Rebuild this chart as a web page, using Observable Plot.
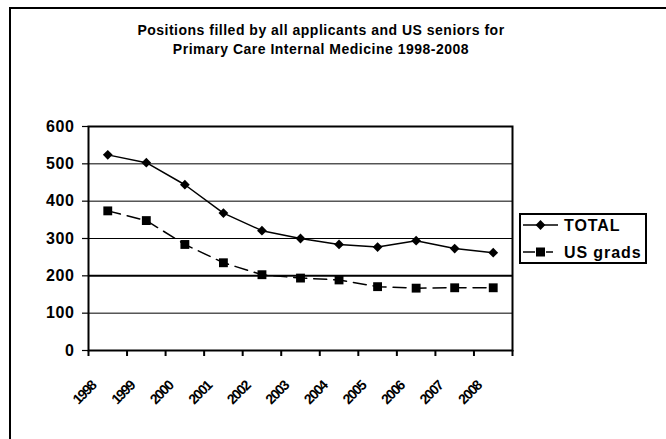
<!DOCTYPE html>
<html>
<head>
<meta charset="utf-8">
<script src="https://cdn.jsdelivr.net/npm/d3@7"></script>
<script src="https://cdn.jsdelivr.net/npm/@observablehq/plot@0.6"></script>
<style>
  body { margin: 0; background: #fff; font-family: "Liberation Sans", Arial, sans-serif; }
  #wrap { position: relative; width: 666px; height: 439px; overflow: hidden; background: #fff; }
  #border { position: absolute; left: 9px; top: 7px; width: 700px; height: 500px; border-left: 2px solid #000; border-top: 2px solid #000; }
  #title { position: absolute; left: 0; top: 21px; width: 642px; text-align: center; font-size: 14px; font-weight: bold; letter-spacing: 0.5px; line-height: 19px; color: #000; }
  #chart svg { position: absolute; left: 0; top: 70px; }
  #legend { position: absolute; left: 519px; top: 213px; }
  .ylab text { letter-spacing: 0.6px; }
</style>
</head>
<body>
<div id="wrap">
  <div id="border"></div>
  <div id="title">Positions filled by all applicants and US seniors for<br>Primary Care Internal Medicine 1998-2008</div>
  <div id="chart"></div>
  <div id="legend"></div>
</div>
<script>
const years = [1998, 1999, 2000, 2001, 2002, 2003, 2004, 2005, 2006, 2007, 2008];
const total = [524, 503, 444, 368, 321, 300, 284, 277, 294, 273, 262];
const usGrads = [374, 348, 284, 235, 203, 194, 189, 171, 167, 168, 168];
const yTicks = [0, 100, 200, 300, 400, 500, 600];
const seriesNames = ["TOTAL", "US grads"];

const rows = years.map((yr, i) => ({year: yr, total: total[i], us: usGrads[i]}));
const bounds = [...years.map(y => y - 0.5), years[years.length - 1] + 0.5];

const chart = Plot.plot({
  width: 666,
  height: 369,
  marginLeft: 88,
  marginRight: 154,
  marginTop: 56,
  marginBottom: 89,
  style: {fontFamily: "Liberation Sans, Arial, sans-serif", color: "#000", background: "transparent"},
  x: {domain: [bounds[0], bounds[bounds.length - 1]], label: null},
  y: {domain: [0, 600], label: null},
  marks: [
    Plot.gridY(yTicks, {stroke: "#000", strokeOpacity: 1, strokeWidth: d => d === 200 ? 2 : 1}),
    Plot.frame({stroke: "#000", strokeWidth: 2}),
    Plot.axisY(yTicks, {tickSize: 6, tickPadding: 8, fontSize: 16, fontWeight: "bold", strokeWidth: 1.2, className: "ylab", label: null}),
    Plot.axisX(bounds, {tickSize: 6, tickFormat: () => "", strokeWidth: 2, label: null}),
    Plot.text(years, {x: d => d, y: 0, text: d => String(d), rotate: -45, textAnchor: "end", dx: -14, dy: 33, fontSize: 14, fontWeight: "bold", fill: "#000", className: "xlab"}),
    Plot.lineY(rows, {x: "year", y: "us", stroke: "#000", strokeWidth: 1.5, strokeDasharray: "13,7"}),
    Plot.lineY(rows, {x: "year", y: "total", stroke: "#000", strokeWidth: 1.5}),
    Plot.dot(rows, {x: "year", y: "us", symbol: "square", fill: "#000", r: 5}),
    Plot.dot(rows, {x: "year", y: "total", symbol: "diamond2", fill: "#000", stroke: "none", r: 4.4})
  ]
});
document.getElementById("chart").appendChild(chart);
d3.select(chart).selectAll(".xlab text").attr("letter-spacing", -1.3);

// Legend
const lg = d3.select("#legend").append("svg").attr("width", 130).attr("height", 52);
lg.append("rect").attr("x", 1).attr("y", 1).attr("width", 126).attr("height", 49)
  .attr("fill", "#fff").attr("stroke", "#000").attr("stroke-width", 2);
const rowsY = [12, 39];
lg.append("line").attr("x1", 4).attr("x2", 39).attr("y1", rowsY[0]).attr("y2", rowsY[0]).attr("stroke", "#000").attr("stroke-width", 1.5);
lg.append("path").attr("transform", `translate(21.5,${rowsY[0]})`).attr("d", d3.symbol(d3.symbolDiamond2, Math.PI * 4.4 * 4.4)()).attr("fill", "#000");
lg.append("line").attr("x1", 4).attr("x2", 16).attr("y1", rowsY[1]).attr("y2", rowsY[1]).attr("stroke", "#000").attr("stroke-width", 1.5);
lg.append("line").attr("x1", 27).attr("x2", 34).attr("y1", rowsY[1]).attr("y2", rowsY[1]).attr("stroke", "#000").attr("stroke-width", 1.5);
lg.append("rect").attr("x", 17).attr("y", rowsY[1] - 4.5).attr("width", 9).attr("height", 9).attr("fill", "#000");
lg.selectAll("text.lab").data(seriesNames).join("text").attr("class", "lab")
  .attr("x", 45).attr("y", (d, i) => rowsY[i] + 5.5)
  .attr("font-family", "Liberation Sans, Arial, sans-serif").attr("font-size", 16).attr("font-weight", "bold")
  .attr("letter-spacing", 0.9).attr("fill", "#000").text(d => d);
</script>
</body>
</html>
